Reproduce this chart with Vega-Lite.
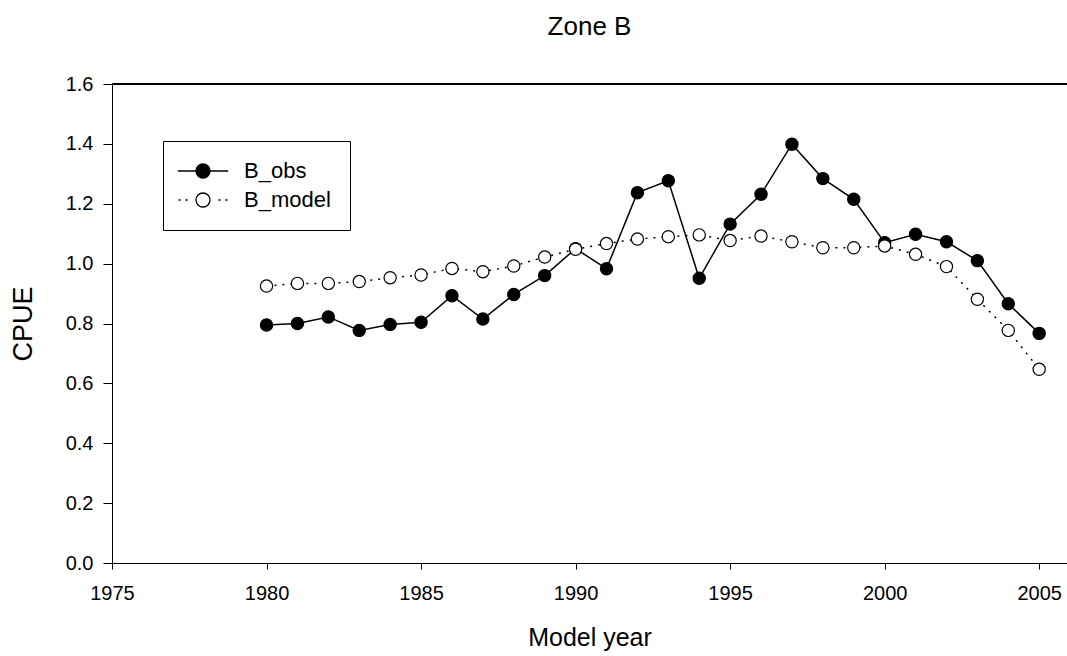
{
  "$schema": "https://vega.github.io/schema/vega-lite/v6.json",
  "autosize": {"type": "none"},
  "padding": {"left": 112, "top": 84, "right": 0, "bottom": 93},
  "width": 955,
  "height": 479,
  "background": "white",
  "title": {"text": "Zone B", "font": "Liberation Sans", "fontSize": 26, "fontWeight": "normal", "color": "black", "anchor": "middle", "offset": 34},
  "config": {
    "view": {"stroke": null},
    "font": "Liberation Sans",
    "axis": {"labelFont": "Liberation Sans", "titleFont": "Liberation Sans", "labelColor": "black", "titleColor": "black", "domainColor": "black", "tickColor": "black", "grid": false, "labelFontSize": 20, "titleFontWeight": "normal", "domainWidth": 1, "tickWidth": 1},
    "legend": {"title": null, "orient": "none", "legendX": 51, "legendY": 57, "strokeColor": "black", "fillColor": "white", "padding": 19,
      "labelFont": "Liberation Sans", "labelFontSize": 22, "labelColor": "black", "symbolSize": 196, "symbolStrokeColor": "black", "symbolStrokeWidth": 1.3, "symbolOffset": 10, "labelOffset": 30, "rowPadding": 7}
  },
  "data": {"values": [
    {"year": 1980, "series": "B_obs", "cpue": 0.795},
    {"year": 1981, "series": "B_obs", "cpue": 0.800},
    {"year": 1982, "series": "B_obs", "cpue": 0.822},
    {"year": 1983, "series": "B_obs", "cpue": 0.777},
    {"year": 1984, "series": "B_obs", "cpue": 0.797},
    {"year": 1985, "series": "B_obs", "cpue": 0.804},
    {"year": 1986, "series": "B_obs", "cpue": 0.893},
    {"year": 1987, "series": "B_obs", "cpue": 0.815},
    {"year": 1988, "series": "B_obs", "cpue": 0.897},
    {"year": 1989, "series": "B_obs", "cpue": 0.960},
    {"year": 1990, "series": "B_obs", "cpue": 1.050},
    {"year": 1991, "series": "B_obs", "cpue": 0.983},
    {"year": 1992, "series": "B_obs", "cpue": 1.237},
    {"year": 1993, "series": "B_obs", "cpue": 1.277},
    {"year": 1994, "series": "B_obs", "cpue": 0.951},
    {"year": 1995, "series": "B_obs", "cpue": 1.132},
    {"year": 1996, "series": "B_obs", "cpue": 1.232},
    {"year": 1997, "series": "B_obs", "cpue": 1.399},
    {"year": 1998, "series": "B_obs", "cpue": 1.284},
    {"year": 1999, "series": "B_obs", "cpue": 1.215},
    {"year": 2000, "series": "B_obs", "cpue": 1.070},
    {"year": 2001, "series": "B_obs", "cpue": 1.098},
    {"year": 2002, "series": "B_obs", "cpue": 1.073},
    {"year": 2003, "series": "B_obs", "cpue": 1.010},
    {"year": 2004, "series": "B_obs", "cpue": 0.866},
    {"year": 2005, "series": "B_obs", "cpue": 0.767},
    {"year": 1980, "series": "B_model", "cpue": 0.925},
    {"year": 1981, "series": "B_model", "cpue": 0.934},
    {"year": 1982, "series": "B_model", "cpue": 0.934},
    {"year": 1983, "series": "B_model", "cpue": 0.940},
    {"year": 1984, "series": "B_model", "cpue": 0.953},
    {"year": 1985, "series": "B_model", "cpue": 0.962},
    {"year": 1986, "series": "B_model", "cpue": 0.984},
    {"year": 1987, "series": "B_model", "cpue": 0.973},
    {"year": 1988, "series": "B_model", "cpue": 0.992},
    {"year": 1989, "series": "B_model", "cpue": 1.022},
    {"year": 1990, "series": "B_model", "cpue": 1.048},
    {"year": 1991, "series": "B_model", "cpue": 1.067},
    {"year": 1992, "series": "B_model", "cpue": 1.082},
    {"year": 1993, "series": "B_model", "cpue": 1.090},
    {"year": 1994, "series": "B_model", "cpue": 1.096},
    {"year": 1995, "series": "B_model", "cpue": 1.077},
    {"year": 1996, "series": "B_model", "cpue": 1.092},
    {"year": 1997, "series": "B_model", "cpue": 1.073},
    {"year": 1998, "series": "B_model", "cpue": 1.053},
    {"year": 1999, "series": "B_model", "cpue": 1.053},
    {"year": 2000, "series": "B_model", "cpue": 1.059},
    {"year": 2001, "series": "B_model", "cpue": 1.031},
    {"year": 2002, "series": "B_model", "cpue": 0.990},
    {"year": 2003, "series": "B_model", "cpue": 0.881},
    {"year": 2004, "series": "B_model", "cpue": 0.777},
    {"year": 2005, "series": "B_model", "cpue": 0.647}
  ]},
  "encoding": {
    "x": {"field": "year", "type": "quantitative", "title": "Model year",
      "scale": {"domain": [1975, 2005.9], "nice": false, "zero": false},
      "axis": {"values": [1975, 1980, 1985, 1990, 1995, 2000, 2005], "format": "d", "tickSize": 6, "labelPadding": 14, "titlePadding": 22, "titleFontSize": 25, "labelFlush": false}},
    "y": {"field": "cpue", "type": "quantitative", "title": "CPUE",
      "scale": {"domain": [0, 1.6], "nice": false},
      "axis": {"values": [0, 0.2, 0.4, 0.6, 0.8, 1.0, 1.2, 1.4, 1.6], "format": ".1f", "tickSize": 9, "labelPadding": 10, "titlePadding": 28, "titleFontSize": 27, "labelFlush": false}}
  },
  "layer": [
    {
      "mark": {"type": "rule", "color": "black", "strokeWidth": 1},
      "encoding": {"y": {"datum": 1.6}, "x": null}
    },
    {
      "transform": [{"filter": "datum.series === 'B_model'"}],
      "mark": {"type": "line", "color": "black", "strokeWidth": 1.5, "strokeDash": [2, 6]}
    },
    {
      "transform": [{"filter": "datum.series === 'B_obs'"}],
      "mark": {"type": "line", "color": "black", "strokeWidth": 1.5}
    },
    {
      "mark": {"type": "point", "filled": true, "shape": "circle", "size": 150, "stroke": "black", "strokeWidth": 1.2, "opacity": 1},
      "encoding": {
        "fill": {"field": "series", "type": "nominal", "scale": {"domain": ["B_obs", "B_model"], "range": ["black", "white"]}, "legend": {}}
      }
    },
    {
      "transform": [{"filter": "false"}],
      "mark": {"type": "point", "filled": true, "stroke": "black", "strokeWidth": 1.2, "opacity": 1},
      "encoding": {
        "fill": {"field": "series", "type": "nominal", "scale": {"domain": ["B_obs", "B_model"], "range": ["black", "white"]}, "legend": {}},
        "shape": {"field": "series", "type": "nominal", "scale": {"domain": ["B_obs", "B_model"], "range": ["M-3.6,0L-1,0M1,0L3.6,0M-1,0A1,1,0,1,0,1,0A1,1,0,1,0,-1,0Z", "M-3.5,0L-3.2,0M-2.5,0L-2.2,0M2.2,0L2.5,0M3.2,0L3.5,0M-1,0A1,1,0,1,0,1,0A1,1,0,1,0,-1,0Z"]}, "legend": {}}
      }
    }
  ]
}
